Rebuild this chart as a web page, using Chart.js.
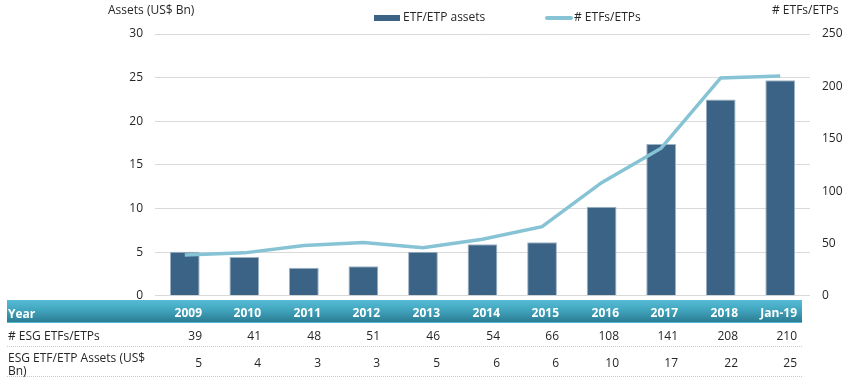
<!DOCTYPE html>
<html>
<head>
<meta charset="utf-8">
<script src="https://cdn.jsdelivr.net/npm/chart.js@4/dist/chart.umd.min.js"></script>
<style>
  html, body { margin: 0; padding: 0; background: #fff; }
  body { width: 847px; height: 383px; position: relative; overflow: hidden;
         font-family: "Open Sans", "Noto Sans", sans-serif; color: #262626; }
  #wrap { position: absolute; left: 0; top: 0; width: 847px; height: 315px; }
  .abs { position: absolute; white-space: nowrap; font-size: 12px; line-height: 14px; }
  .hdr { position: absolute; left: 7px; width: 795px; top: 300px; height: 22px;
         background: linear-gradient(to bottom, #56bdd6 0%, #3fa2bb 50%, #2b7c92 100%);
         border-bottom: 1px dotted #9a9a9a; }
  .rowline { position: absolute; left: 7px; width: 795px; height: 0; border-bottom: 1px dotted #c8c8c8; }
  .hdrtxt { color: #fff; font-weight: bold; }
  .legsw { position: absolute; }
</style>
</head>
<body>
<div id="wrap"><canvas id="c" width="847" height="315"></canvas></div>

<div class="abs" style="left:108px; top:3px;">Assets (US$ Bn)</div>
<div class="abs" style="left:772px; top:3px;"># ETFs/ETPs</div>

<div class="legsw" style="left:374px; top:15px; width:26px; height:6px; background:#3a6385;"></div>
<div class="abs" style="left:403px; top:10px;">ETF/ETP assets</div>
<div class="legsw" style="left:545px; top:16px; width:28px; height:4px; border-radius:2px; background:#86c3d4;"></div>
<div class="abs" style="left:574px; top:10px;"># ETFs/ETPs</div>

<div class="hdr"></div>
<div class="rowline" style="top:346px;"></div>
<div class="rowline" style="top:376px;"></div>
<div id="table"></div>

<script>
const years = ["2009","2010","2011","2012","2013","2014","2015","2016","2017","2018","Jan-19"];
const assets = [5.05, 4.45, 3.2, 3.4, 5.05, 5.9, 6.15, 10.2, 17.4, 22.5, 24.7];
const etfCount = [39, 41, 48, 51, 46, 54, 66, 108, 141, 208, 210];
const assetsTableLabels = ["5","4","3","3","5","6","6","10","17","22","25"];
const leftTicks = [0, 5, 10, 15, 20, 25, 30];
const rightTicks = [0, 50, 100, 150, 200, 250];
const rowLabels = ["Year", "# ESG ETFs/ETPs", "ESG ETF/ETP Assets (US$\nBn)"];

const tickFont = { family: "'Open Sans', 'Noto Sans', sans-serif", size: 12 };

const chart = new Chart(document.getElementById('c'), {
  data: {
    labels: years,
    datasets: [
      { type: 'line', label: '# ETFs/ETPs', data: etfCount, yAxisID: 'y1',
        borderColor: '#86c3d4', borderWidth: 3.5, pointRadius: 0, tension: 0, order: 0 },
      { type: 'bar', label: 'ETF/ETP assets', data: assets, yAxisID: 'y',
        backgroundColor: '#3a6385', borderColor: '#9fb3c6', borderWidth: 1,
        categoryPercentage: 1.0, barPercentage: 0.5, order: 1 }
    ]
  },
  options: {
    responsive: false,
    devicePixelRatio: 1,
    animation: false,
    layout: { padding: { top: 34, left: 0, right: 0, bottom: 0 } },
    plugins: { legend: { display: false }, tooltip: { enabled: false } },
    scales: {
      x: { display: false, offset: true, grid: { display: false } },
      y: {
        position: 'left', min: 0, max: 30,
        afterBuildTicks: s => { s.ticks = leftTicks.map(v => ({ value: v })); },
        afterFit: s => { s.width = 155; },
        ticks: { font: tickFont, color: '#262626', padding: 12 },
        grid: { color: '#d9d9d9', lineWidth: 1, drawTicks: false },
        border: { display: false }
      },
      y1: {
        position: 'right', min: 0, max: 250,
        afterBuildTicks: s => { s.ticks = rightTicks.map(v => ({ value: v })); },
        afterFit: s => { s.width = 37; },
        ticks: { font: tickFont, color: '#262626', padding: 12 },
        grid: { display: false, drawTicks: false },
        border: { display: false }
      }
    }
  }
});

// Data table below the chart, columns anchored to the category scale
const xs = chart.scales.x;
const tbl = document.getElementById('table');
function addText(txt, left, top, cls, alignRight) {
  const d = document.createElement('div');
  d.className = 'abs' + (cls ? ' ' + cls : '');
  d.textContent = txt;
  d.style.top = top + 'px';
  if (alignRight) { d.style.right = (847 - left) + 'px'; d.style.textAlign = 'right'; }
  else d.style.left = left + 'px';
  tbl.appendChild(d);
  return d;
}
addText(rowLabels[0], 8, 307, 'hdrtxt', false);
addText(rowLabels[1], 8, 329, '', false);
const l3 = addText(rowLabels[2], 8, 351, '', false);
l3.style.whiteSpace = 'pre'; l3.style.lineHeight = '13px';
years.forEach((y, i) => {
  const r = Math.round(xs.getPixelForValue(i)) + 17;
  addText(y, r, 306, 'hdrtxt', true);
  addText(String(etfCount[i]), r, 329, '', true);
  addText(assetsTableLabels[i], r, 356, '', true);
});
</script>
</body>
</html>
